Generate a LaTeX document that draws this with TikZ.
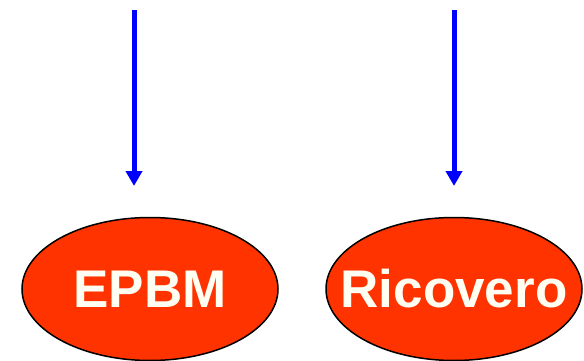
\documentclass[tikz,border=0pt]{standalone}
\usepackage{fontspec}
\setmainfont{Liberation Sans}
\usetikzlibrary{arrows.meta,shapes.geometric}
\definecolor{redfill}{HTML}{FF3300}
\definecolor{offwhite}{HTML}{FFFEF2}
\definecolor{arrowblue}{HTML}{0000FF}
\tikzset{
  oval/.style={ellipse, draw=black, line width=1.5pt, fill=redfill, minimum width=256pt, minimum height=143pt, inner sep=0pt},
  ovaltext/.style={inner sep=0pt, text=offwhite, font=\fontsize{53pt}{60pt}\selectfont\bfseries},
  bluearrow/.style={draw=arrowblue, line width=5pt, -{Triangle[width=16pt,length=15pt]}}
}
\begin{document}
\begin{tikzpicture}[x=1pt,y=-1pt]
\useasboundingbox (0,0) rectangle (584,361);
\coordinate (a1) at (134,10);
\coordinate (a2) at (134,186);
\coordinate (b1) at (454,10);
\coordinate (b2) at (454,186);
\draw[bluearrow] (a1) -- (a2);
\draw[bluearrow] (b1) -- (b2);
\node[oval] (epbm) at (150,289) {};
\node[ovaltext] (epbmtext) at (epbm) {EPBM};
\node[oval] (ricovero) at (454,289) {};
\node[ovaltext] (ricoverotext) at (ricovero) {Ricovero};
\end{tikzpicture}
\end{document}
